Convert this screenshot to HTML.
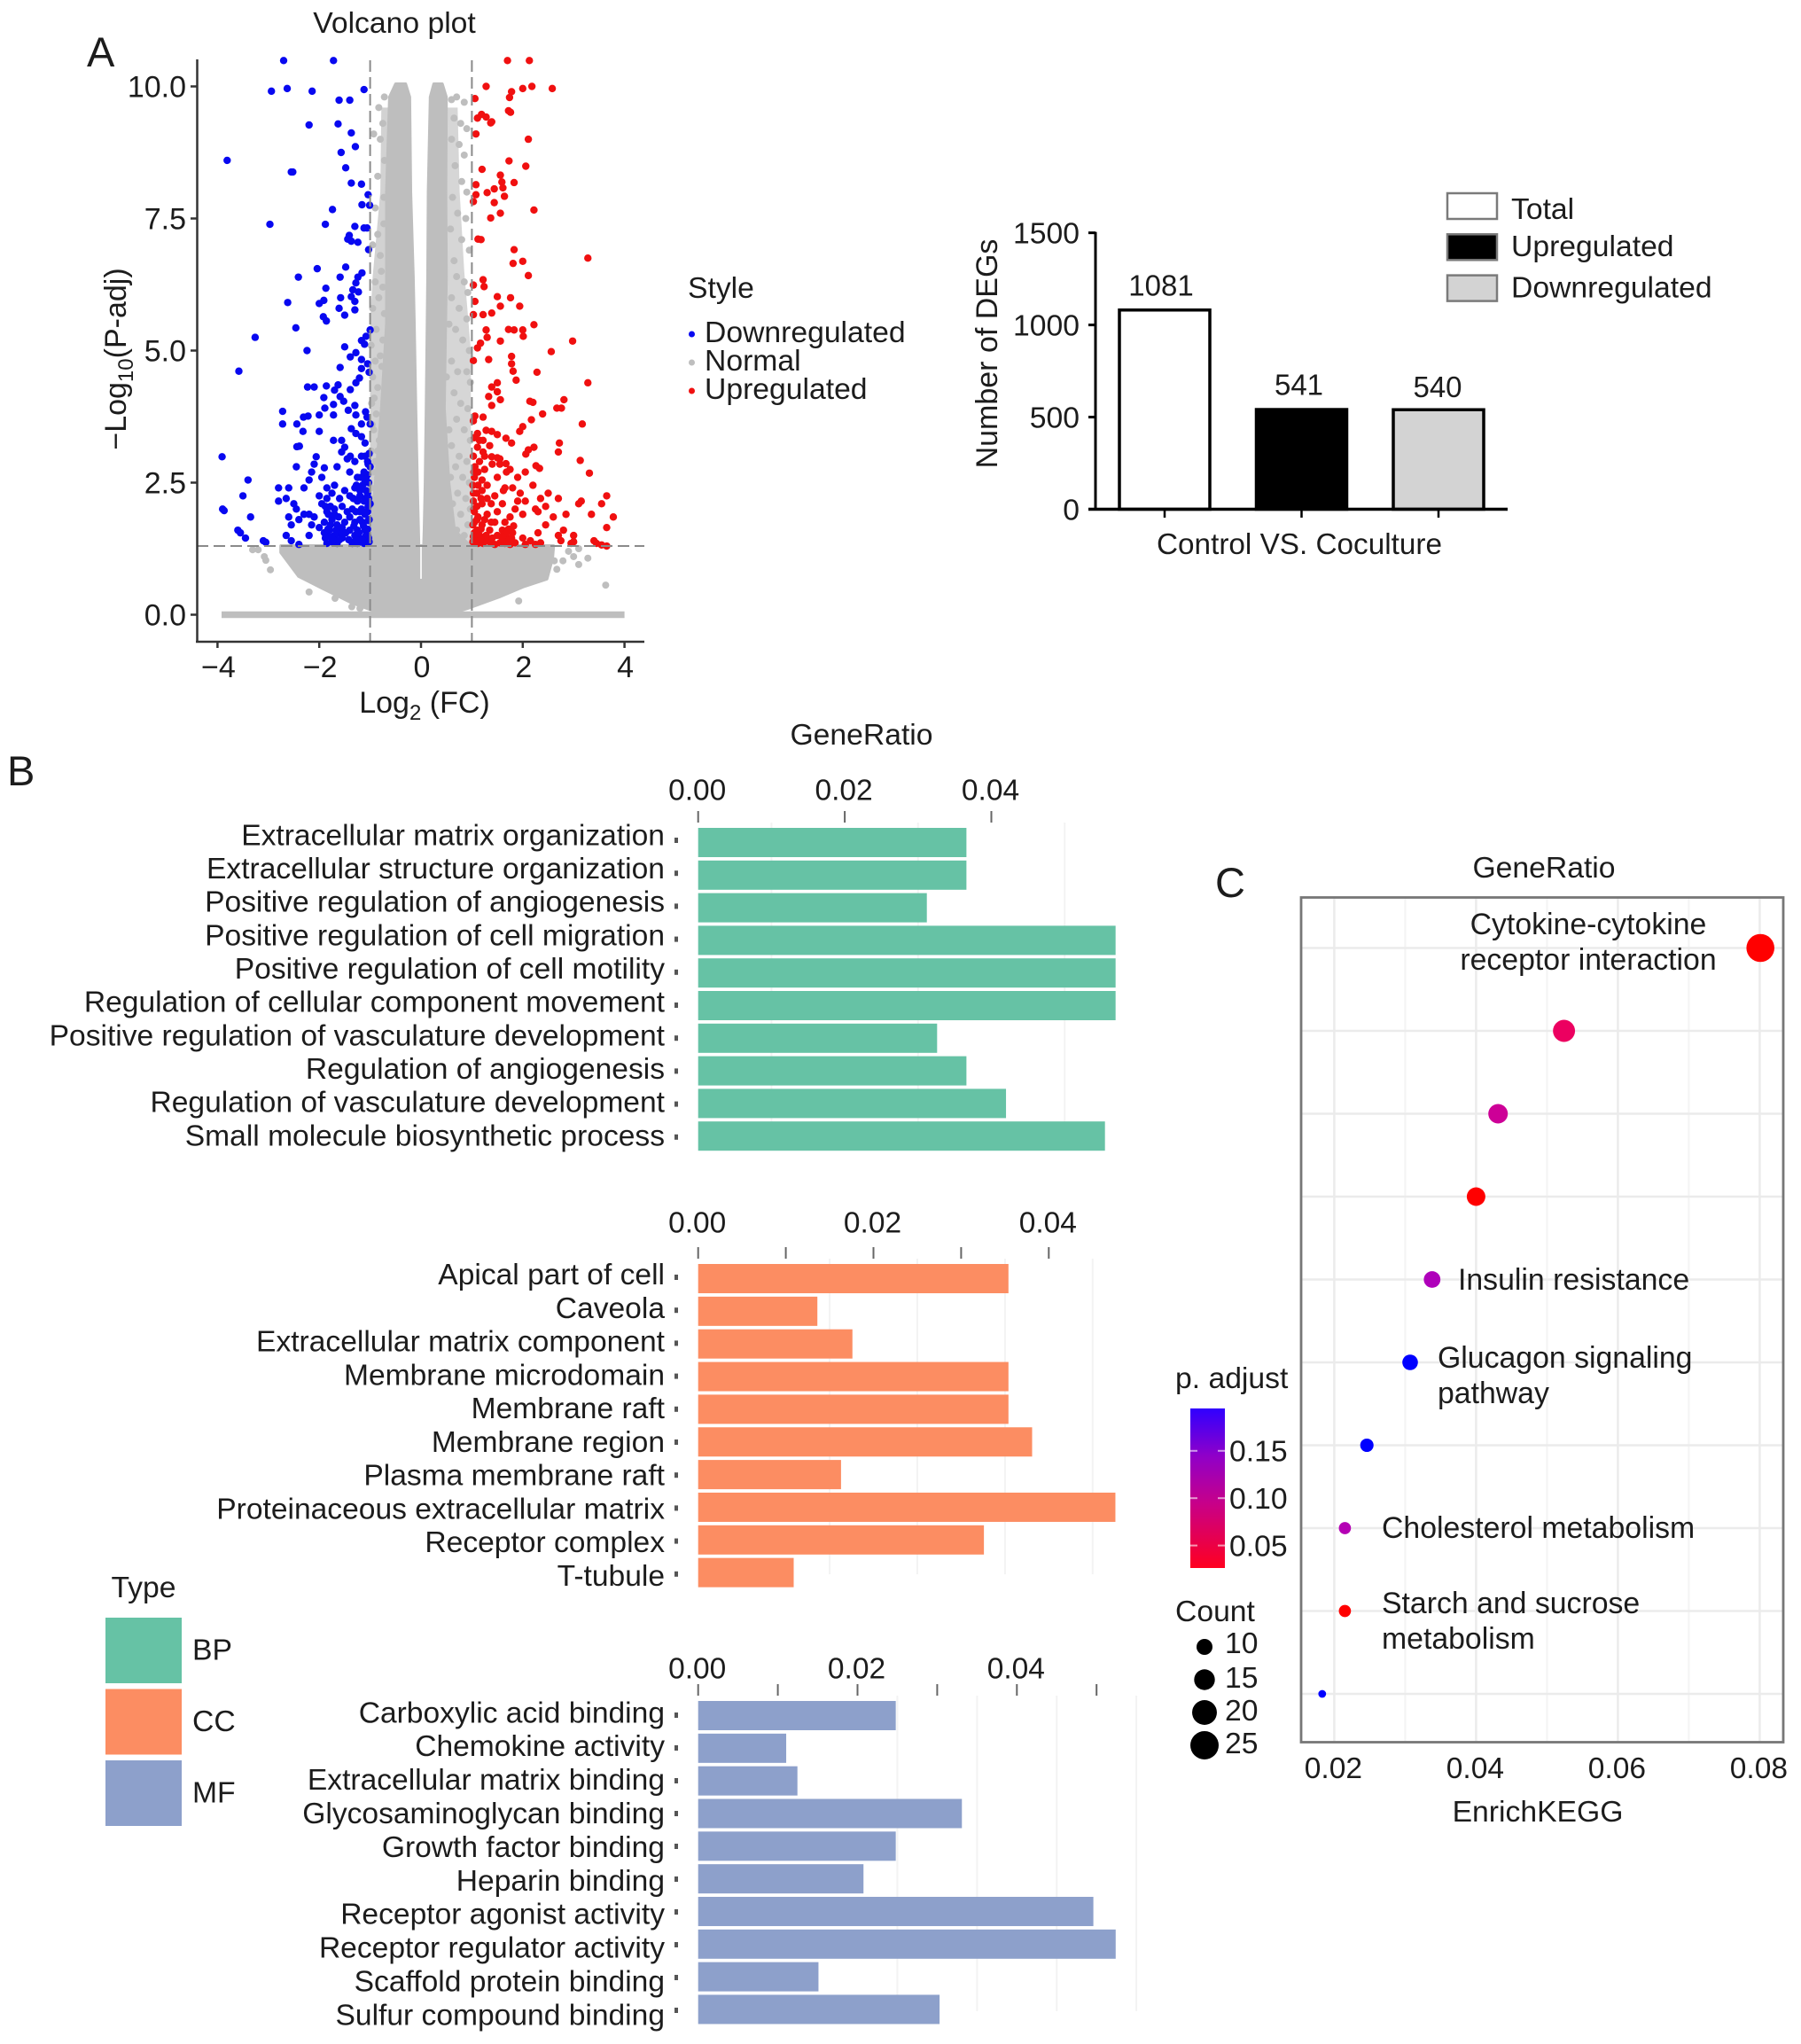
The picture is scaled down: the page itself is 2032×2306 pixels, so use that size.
<!DOCTYPE html>
<html lang="en">
<head>
<meta charset="utf-8">
<title>Differential expression figure</title>
<style>
html,body{margin:0;padding:0;background:#fff;}
svg{display:block;}
text{font-family:"Liberation Sans",Arial,sans-serif;fill:#1c1c1c;font-size:33.7px;}
</style>
</head>
<body>
<svg id="fig" xmlns="http://www.w3.org/2000/svg" width="2032" height="2306" viewBox="0 0 2032 2306">
<rect x="0" y="0" width="2032" height="2306" fill="#fff"/>
<text x="98" y="75" style="font-size:47px">A</text>
<text x="8" y="886" style="font-size:47px">B</text>
<text x="1371" y="1012" style="font-size:47px">C</text>

<text x="445" y="37" text-anchor="middle" style="font-size:33.7px">Volcano plot</text>
<text transform="translate(142,405) rotate(-90)" text-anchor="middle" style="font-size:34px">−Log<tspan dy="8" style="font-size:24px">10</tspan><tspan dy="-8">(P-adj)</tspan></text>
<text x="479" y="804" text-anchor="middle" style="font-size:34px">Log<tspan dy="8" style="font-size:24px">2</tspan><tspan dy="-8"> (FC)</tspan></text>
<text x="776" y="336">Style</text>

<text transform="translate(1125,399) rotate(-90)" text-anchor="middle" style="font-size:34px">Number of DEGs</text>
<text x="1466" y="625" text-anchor="middle" style="font-size:33.3px">Control VS. Coculture</text>

<text x="972" y="840" text-anchor="middle">GeneRatio</text>
<text x="162" y="1802" text-anchor="middle">Type</text>

<text x="1742" y="990" text-anchor="middle">GeneRatio</text>
<text x="1735" y="2055" text-anchor="middle">EnrichKEGG</text>
<text x="1326" y="1566">p. adjust</text>
<text x="1326" y="1829">Count</text>

<defs>
<linearGradient id="padjGrad" x1="0" y1="0" x2="0" y2="1">
<stop offset="0" stop-color="#3000ff"/>
<stop offset="0.3" stop-color="#9000c8"/>
<stop offset="0.6" stop-color="#c80088"/>
<stop offset="1" stop-color="#ff0020"/>
</linearGradient>
</defs>
<rect x="1343" y="1589" width="39" height="180" fill="url(#padjGrad)"/>
</svg>

<script>
/* ---------- Panel A: volcano data ---------- */
var volcanoXTicks = [-4, -2, 0, 2, 4];
var volcanoYTicks = [0, 2.5, 5, 7.5, 10];
var volcanoCutoffsX = [-1, 1];
var volcanoCutoffY = [1.3];
var styleLegend = ['Downregulated', 'Normal', 'Upregulated'];
var downregulated = [[-2.7,10.49],[-1.72,10.49],[-2.94,9.91],[-2.63,9.96],[-2.14,9.91],[-1.12,9.94],[-1.61,9.74],[-1.4,9.74],[-2.2,9.27],[-1.63,9.29],[-1.37,9.12],[-1.29,8.86],[-1.57,8.75],[-3.81,8.6],[-1.48,8.46],[-2.55,8.38],[-2.52,8.38],[-1.37,8.17],[-1.17,8.15],[-1.04,7.95],[-1.16,7.76],[-1.01,7.75],[-1.74,7.67],[-2.97,7.39],[-1.88,7.39],[-1.3,7.35],[-1.12,7.32],[-1.06,7.32],[-1.41,7.18],[-1.44,7.11],[-1.37,7.07],[-1.24,7.05],[-1.03,6.91],[-2.04,6.55],[-1.48,6.58],[-1.16,6.47],[-2.41,6.39],[-1.59,6.39],[-1.24,6.39],[-1.28,6.28],[-1.87,6.18],[-1.34,6.15],[-1.23,6.11],[-1.37,6.02],[-1.58,6],[-1.91,5.95],[-2.62,5.91],[-2,5.89],[-1.3,5.93],[-1.61,5.8],[-1.3,5.77],[-1.5,5.67],[-1.92,5.64],[-1.86,5.56],[-2.46,5.43],[-1,5.39],[-1.08,5.27],[-3.26,5.25],[-1.17,5.19],[-1.11,5.12],[-1.5,5.07],[-2.24,5],[-1.28,4.96],[-1.39,4.88],[-1.17,4.83],[-1.05,4.75],[-1.59,4.68],[-3.58,4.61],[-1.17,4.66],[-1.02,4.59],[-1.21,4.48],[-1.63,4.35],[-1.28,4.39],[-2.23,4.31],[-2.1,4.31],[-1.86,4.33],[-1.7,4.25],[-1.39,4.26],[-1.59,4.13],[-1.91,4.11],[-1.52,4.04],[-1.72,3.98],[-1.89,3.91],[-1.3,3.96],[-2.72,3.85],[-1.43,3.87],[-1.09,3.84],[-1.72,3.78],[-2.22,3.76],[-2.31,3.74],[-2,3.78],[-1.28,3.78],[-1.06,3.74],[-2.72,3.61],[-2.44,3.61],[-1.17,3.61],[-1,3.61],[-1.37,3.52],[-2.32,3.47],[-2,3.47],[-1.28,3.43],[-1.17,3.37],[-1.72,3.3],[-1.56,3.3],[-2.39,3.19],[-2.44,3.18],[-1.5,3.17],[-1.56,3.08],[-1.39,3],[-3.91,2.99],[-2.06,2.99],[-1.17,3],[-1.1,3],[-1.05,2.9],[-1.3,2.9],[-1.45,2.95],[-2.45,2.8],[-2.1,2.85],[-1.9,2.78],[-1.65,2.8],[-1,2.8],[-1.05,2.65],[-2.15,2.7],[-2.2,2.55],[-1.95,2.6],[-1.7,2.45],[-1.4,2.7],[-1.25,2.6],[-1.1,2.5],[-3.4,2.55],[-2.3,2.4],[-1.85,2.4],[-2.8,2.4],[-2.6,2.4],[-1.5,2.35],[-1.3,2.4],[-1.2,2.35],[-1.05,2.3],[-3.5,2.25],[-2.65,2.2],[-2.8,2.15],[-2,2.25],[-1.85,2.2],[-1.95,2.1],[-1.75,2.3],[-1.6,2.2],[-1.4,2.25],[-1.25,2.15],[-1.1,2.2],[-1,2.1],[-3.9,2],[-3.87,1.97],[-2.5,2.1],[-2.45,2],[-2.3,1.9],[-2.2,1.9],[-2.1,1.85],[-1.85,1.95],[-1.7,2],[-1.55,2.05],[-1.35,2],[-1.2,1.95],[-1.05,1.95],[-3.35,1.85],[-2.6,1.85],[-2.55,1.7],[-2.4,1.8],[-1.9,1.75],[-1.75,1.8],[-1.65,1.7],[-1.5,1.75],[-1.3,1.75],[-1.15,1.75],[-1.02,1.8],[-2.15,1.7],[-2,1.65],[-1.9,1.55],[-1.8,1.6],[-1.6,1.55],[-1.4,1.6],[-1.25,1.6],[-1.1,1.6],[-3.6,1.6],[-3.55,1.55],[-2.2,1.5],[-1.7,1.5],[-1.55,1.45],[-1.3,1.5],[-1.2,1.45],[-1.05,1.5],[-3.45,1.45],[-3.1,1.4],[-3.05,1.37],[-2.65,1.5],[-2.55,1.4],[-2.4,1.33],[-1.85,1.35],[-1.75,1.38],[-1.65,1.35],[-1.35,1.35],[-1.25,1.35],[-1.12,1.35],[-1.02,1.38],[-1.03,1.45],[-1.08,1.5],[-1.15,1.42],[-1.22,1.55],[-1.28,1.42],[-1.05,1.62],[-1.13,1.68],[-1.2,1.8],[-1.32,1.68],[-1.04,1.78],[-1.1,1.9],[-1.17,2],[-1.28,1.95],[-1.4,1.85],[-1.04,2.05],[-1.12,2.15],[-1.03,2.2],[-1.2,2.25],[-1.33,2.2],[-1.08,2.35],[-1.15,2.45],[-1.27,2.45],[-1.03,2.5],[-1.08,2.6],[-1.18,2.6],[-1.72,1.42],[-1.8,1.48],[-1.6,1.42],[-1.67,1.6],[-1.78,1.7],[-1.88,1.45],[-1.83,1.62],[-1.62,1.85],[-1.7,1.9],[-1.82,1.9],[-1.78,2.05],[-1.88,2.05],[-1.42,1.42],[-1.48,1.55],[-1.55,1.65],[-1.45,1.95],[-1.04,2.85],[-1.12,2.7],[-1.02,3.05],[-1.1,3.25]];
var upregulated = [[1.7,10.49],[2.13,10.49],[1.28,10],[1.78,9.9],[2,9.96],[2.18,10],[2.58,9.96],[1.06,9.77],[1.74,9.79],[1.19,9.47],[1.11,9.4],[1.72,9.54],[1.76,9.51],[1.28,9.42],[1.37,9.31],[1.39,9.33],[1.08,9.1],[2.11,9],[1.73,8.59],[2.06,8.49],[1.2,8.43],[1.56,8.32],[1.59,8.19],[1.83,8.18],[1.08,8.14],[1.3,7.99],[1.44,8.06],[1.61,8.08],[1.08,7.95],[1.64,7.92],[1.03,7.82],[1.44,7.8],[1.37,7.51],[1.56,7.6],[2.22,7.66],[1.12,7.11],[1.18,7.1],[1.83,6.91],[3.28,6.75],[2,6.69],[1.81,6.65],[2.11,6.42],[1.22,6.34],[1.03,6.24],[1.24,6.21],[1.5,6.02],[1.76,6],[1.06,5.93],[1.56,5.84],[1.94,5.84],[1.03,5.68],[1.22,5.68],[1.39,5.71],[1.72,5.4],[2.22,5.49],[1.28,5.39],[2,5.39],[1.83,5.39],[1.3,5.25],[2.98,5.18],[2.01,5.27],[1.17,5.14],[1.56,5.18],[2.56,4.98],[1.11,5.05],[1.78,4.89],[1.33,4.83],[1.03,4.81],[1.78,4.75],[2.28,4.59],[1.81,4.61],[1.87,4.44],[3.28,4.39],[1.5,4.39],[1.39,4.31],[1.5,4.22],[1.33,4.13],[1.56,4.07],[2.14,4.04],[2.2,4.02],[2.81,4.07],[1.39,3.96],[2.67,3.91],[2.76,3.91],[2.39,3.8],[2.17,3.69],[3.17,3.61],[1.06,3.76],[1.22,3.74],[1.03,3.67],[2,3.56],[1.28,3.49],[1.11,3.43],[1.94,3.47],[1.5,3.41],[1.39,3.47],[1.67,3.34],[1.22,3.3],[1.78,3.25],[2.72,3.25],[2.22,3.17],[2.11,3.12],[1.11,3.17],[2.7,3.08],[2.06,3.04],[1.22,3.08],[1.39,2.99],[1.5,2.97],[1.67,2.86],[3.13,2.92],[2.26,2.82],[2.33,2.77],[1.03,3],[1.15,2.9],[1.06,2.8],[1.25,2.75],[1.4,2.85],[1.55,2.95],[1.75,2.75],[1.9,2.6],[1.05,2.6],[1.2,2.55],[1.5,2.6],[2.05,2.7],[3.31,2.68],[2.2,2.45],[1.02,2.45],[1.3,2.45],[1.65,2.4],[1.8,2.4],[1.95,2.3],[2.5,2.3],[2.7,2.2],[3.65,2.25],[1.1,2.3],[1.45,2.25],[2.35,2.2],[2.05,2.15],[2.45,2.05],[3.15,2.15],[3.1,2.1],[3.55,2.1],[1.03,2.15],[1.2,2.1],[1.6,2.1],[1.85,2],[2.25,2],[2.3,1.95],[2.85,1.9],[3.35,1.9],[3.78,1.85],[1.05,1.95],[1.3,1.9],[1.5,1.95],[1.75,1.85],[2,1.9],[2.6,1.85],[1.1,1.8],[1.45,1.75],[1.65,1.75],[2.45,1.7],[2.7,1.5],[3.65,1.65],[1.02,1.7],[1.2,1.7],[1.35,1.6],[1.6,1.6],[1.8,1.55],[2.3,1.55],[2.8,1.6],[3,1.5],[1.05,1.55],[1.15,1.5],[1.25,1.45],[1.5,1.5],[1.7,1.45],[2,1.45],[2.15,1.4],[2.75,1.4],[3.4,1.4],[3.45,1.35],[3.55,1.32],[3.65,1.3],[1.02,1.38],[1.12,1.35],[1.22,1.35],[1.35,1.38],[1.45,1.33],[1.55,1.36],[1.65,1.35],[1.75,1.33],[1.85,1.36],[2.05,1.33],[2.25,1.33],[2.35,1.36],[2.95,1.35],[3,1.38],[1.03,1.48],[1.08,1.4],[1.1,1.6],[1.17,1.42],[1.18,1.62],[1.28,1.5],[1.3,1.4],[1.4,1.45],[1.05,1.75],[1.12,1.85],[1.25,1.8],[1.38,1.75],[1.6,1.42],[1.68,1.55],[1.72,1.62],[1.6,1.48],[1.78,1.45],[1.82,1.68],[1.04,2],[1.1,2.05],[1.18,2.2],[1.03,2.3],[1.12,2.45],[1.2,2.35],[1.04,2.7],[1.12,2.7],[1.3,2.2],[1.38,2.1],[1.25,3],[1.35,3.2],[1.05,3.35],[1.15,3.3],[1.55,2.85],[1.68,2.7],[1.62,2.35],[1.9,2.15]];
var normalScatter = [[-0.72,9.8],[-0.83,9.6],[-0.75,9.3],[-0.93,9.1],[-0.8,9],[-0.72,8.6],[-0.85,8.3],[-0.73,7.9],[-0.9,7.7],[-0.73,7.4],[-0.85,7.2],[-0.95,7],[-0.8,6.8],[-0.78,6.5],[-0.9,6.3],[-0.75,6.2],[-0.83,6],[-0.95,5.8],[-0.72,5.7],[-0.88,5.4],[-0.98,5.1],[-0.9,4.8],[-0.77,4.7],[-0.95,4.5],[-0.85,4.3],[-0.97,4],[-0.88,3.8],[-0.93,3.5],[-0.82,3.3],[-0.98,3.1],[-0.9,2.9],[-0.95,2.7],[-0.85,2.6],[-0.98,2.4],[-0.92,2.2],[-0.97,2],[-0.88,1.9],[-0.95,1.7],[-0.9,1.5],[-0.75,5.2],[-0.8,4.9],[-0.85,3.1],[-0.92,4.1],[-0.96,3.6],[0.6,9.75],[0.7,9.8],[0.85,9.7],[0.65,9.4],[0.78,9.3],[0.9,9.2],[0.6,9],[0.75,8.9],[0.85,8.7],[0.67,8.5],[0.8,8.2],[0.9,8],[0.62,7.9],[0.72,7.6],[0.88,7.5],[0.58,7.3],[0.8,7.1],[0.95,6.9],[0.65,6.7],[0.7,6.4],[0.85,6.3],[0.92,6.1],[0.6,6],[0.75,5.8],[0.9,5.6],[0.68,5.4],[0.82,5.2],[0.95,5],[0.6,4.8],[0.72,4.6],[0.9,4.6],[0.97,4.4],[0.65,4.2],[0.78,4],[0.92,3.9],[0.7,3.7],[0.85,3.5],[0.97,3.3],[0.6,3.2],[0.75,3],[0.9,2.9],[0.68,2.8],[0.82,2.6],[0.95,2.5],[0.72,2.3],[0.88,2.2],[0.97,2],[0.78,1.9],[0.92,1.7],[0.7,1.6],[0.85,1.5],[0.55,5.5],[0.5,4.5],[0.55,3.5],[0.58,2.6],[0.62,2.1],[-3.31,1.23],[-3.2,1.23],[-3.08,1.1],[-3.05,1.03],[-2.96,0.85],[-2.2,0.43],[-1.69,0.31],[-1.36,0.15],[-1.2,0.12],[1.92,0.26],[3.63,0.56],[3.1,0.95],[3,1.1],[3.28,1.07],[2.79,1.02],[2.62,1.02],[2.67,0.86],[2.9,1.2],[3.1,1.25]];
/* dense grey mass: [-log10 p, inner |log2FC|, outer |log2FC|] at each height */
var normalDensityLeft = [[10.05,0.3,0.5],[9.8,0.22,0.62],[8,0.2,0.68],[6.4,0.15,0.68],[5.5,0.13,0.68],[3.9,0.1,0.78],[2.5,0.07,0.9],[1.3,0.04,1]];
var normalDensityRight = [[10.05,0.25,0.42],[9.8,0.18,0.5],[8,0.14,0.49],[6.4,0.13,0.5],[3.9,0.1,0.46],[2.5,0.08,0.55],[1.6,0.06,0.66],[1.3,0.05,0.98]];
/* lighter fringe where grey points are spread with gaps */
var normalFringeLeft = [[9.6,0.64,0.78],[8,0.68,0.8],[6.4,0.68,0.95],[5.5,0.68,1],[3.9,0.78,1],[1.3,0.9,1]];
var normalFringeRight = [[9.6,0.48,0.72],[8,0.49,0.76],[6.5,0.5,0.85],[5,0.44,0.98],[3,0.5,0.98],[1.3,0.6,0.98]];
/* lower wedge outline of the non-significant genes */
var normalWedge = [[-2.75,1.3],[2.6,1.3],[2.58,1.07],[2.47,0.68],[2,0.53],[1.53,0.34],[0.96,0.14],[0.73,0.07],[0,0.03],[-0.96,0.09],[-1.36,0.23],[-1.95,0.51],[-2.4,0.73],[-2.75,1.18]];
var normalGap = [1.3, 0.68];
var normalBaseline = [-3.92, 4];

/* ---------- Panel A right: DEG counts ---------- */
var degGroups = ['Total', 'Upregulated', 'Downregulated'];
var degCounts = [1081, 541, 540];
var degTicks = [0, 500, 1000, 1500];

/* ---------- Panel B: GO enrichment ---------- */
var bpTerms = ['Extracellular matrix organization','Extracellular structure organization','Positive regulation of angiogenesis','Positive regulation of cell migration','Positive regulation of cell motility','Regulation of cellular component movement','Positive regulation of vasculature development','Regulation of angiogenesis','Regulation of vasculature development','Small molecule biosynthetic process'];
var bpRatios = [0.0366,0.0366,0.0312,0.05695,0.05695,0.05695,0.0326,0.0366,0.042,0.0555];
var bpTicks = [0, 0.02, 0.04];
var bpMinorTicks = [];
var ccTerms = ['Apical part of cell','Caveola','Extracellular matrix component','Membrane microdomain','Membrane raft','Membrane region','Plasma membrane raft','Proteinaceous extracellular matrix','Receptor complex','T-tubule'];
var ccRatios = [0.0354,0.0136,0.0176,0.0354,0.0354,0.0381,0.0163,0.0476,0.0326,0.0109];
var ccTicks = [0, 0.02, 0.04];
var ccMinorTicks = [0.01, 0.03];
var mfTerms = ['Carboxylic acid binding','Chemokine activity','Extracellular matrix binding','Glycosaminoglycan binding','Growth factor binding','Heparin binding','Receptor agonist activity','Receptor regulator activity','Scaffold protein binding','Sulfur compound binding'];
var mfRatios = [0.0248,0.01105,0.01246,0.0331,0.0248,0.02075,0.0496,0.0524,0.0151,0.0303];
var mfTicks = [0, 0.02, 0.04];
var mfMinorTicks = [0.01, 0.03, 0.05];
var typeLegend = ['BP', 'CC', 'MF'];

/* ---------- Panel C: KEGG dot plot ---------- */
var keggRatios = [0.0801,0.0524,0.0431,0.04,0.0338,0.0307,0.0246,0.0215,0.0215,0.0183];
var keggAdjust = [0.026,0.05,0.085,0.026,0.115,0.194,0.194,0.11,0.026,0.194];
var keggCounts = [25,17,14,13,11,10,8,7,7,4];
var keggTicks = [0.02, 0.04, 0.06, 0.08];
var keggMinorTicks = [0.03, 0.05, 0.07];
var adjustTicks = [0.05, 0.10, 0.15];
var countLegend = [10, 15, 20, 25];

var NS = 'http://www.w3.org/2000/svg';
var fig = document.getElementById('fig');
function mk(tag, attrs, parent, txt) {
  var el = document.createElementNS(NS, tag);
  for (var k in attrs) { el.setAttribute(k, attrs[k]); }
  if (txt !== undefined) { el.textContent = txt; }
  (parent || fig).appendChild(el);
  return el;
}
function label(x, yc, str, anchor, size) {
  var fs = size || 33.7;
  var el = mk('text', {x: x, y: yc + fs * 0.35, 'text-anchor': anchor || 'start', style: 'font-size:' + fs + 'px'}, fig, str);
  return el;
}
function hline(x1, y1, x2, y2, color, w, dash) {
  var a = {x1: x1, y1: y1, x2: x2, y2: y2, stroke: color, 'stroke-width': w};
  if (dash) { a['stroke-dasharray'] = dash; }
  return mk('line', a);
}

/* ===== Volcano ===== */
function vx(v) { return 475 + 57.4 * v; }
function vy(v) { return 693.5 - 59.6 * v; }

function bandPoints(rows, sign) {
  var inner = rows.map(function (r) { return vx(sign * r[1]) + ',' + vy(r[0]); });
  var outer = rows.slice().reverse().map(function (r) { return vx(sign * r[2]) + ',' + vy(r[0]); });
  return inner.concat(outer).join(' ');
}
var fringeL = mk('polygon', {points: bandPoints(normalFringeLeft, -1), fill: '#d2d2d2'});


var fringeR = mk('polygon', {points: bandPoints(normalFringeRight, 1), fill: '#d6d6d6'});



var wedgePts = normalWedge.map(function (p) { return vx(p[0]) + ',' + vy(p[1]); }).join(' ');
var wedge = mk('polygon', {points: wedgePts, fill: '#bebebe', stroke: '#bebebe', 'stroke-width': 4, 'stroke-linejoin': 'round'});



var leftBand = mk('polygon', {points: bandPoints(normalDensityLeft, -1), fill: '#bebebe', stroke: '#bebebe', 'stroke-width': 3, 'stroke-linejoin': 'round'});


var rightBand = mk('polygon', {points: bandPoints(normalDensityRight, 1), fill: '#bebebe', stroke: '#bebebe', 'stroke-width': 3, 'stroke-linejoin': 'round'});



var gapLine = hline(vx(0), vy(normalGap[0]), vx(0), vy(normalGap[1]), '#f4f4f4', 2);



var baseLine = hline(vx(normalBaseline[0]), vy(0), vx(normalBaseline[1]), vy(0), '#bebebe', 7.5);



normalScatter.forEach(function (p) {
  var c = mk('circle', {cx: vx(p[0]), cy: vy(p[1]), r: 4, fill: '#bebebe'});
  
  
});
downregulated.forEach(function (p) {
  var c = mk('circle', {cx: vx(p[0]), cy: vy(p[1]), r: 4.2, fill: '#0808f0'});
  
  
});
upregulated.forEach(function (p) {
  var c = mk('circle', {cx: vx(p[0]), cy: vy(p[1]), r: 4.2, fill: '#f01010'});
  
  
});
volcanoCutoffsX.forEach(function (v) {
  var l = hline(vx(v), 68, vx(v), 723, '#8a8a8a', 2, '13 6');
  
  
});
volcanoCutoffY.forEach(function (v) {
  var l = hline(222, vy(v), 727, vy(v), '#8a8a8a', 2, '13 6');
  
  
});
var vAxisY = hline(222.5, 67, 222.5, 724, '#333', 2.5);


var vAxisX = hline(221, 724, 727, 724, '#333', 2.5);


volcanoXTicks.forEach(function (v) {
  var t = hline(vx(v), 724, vx(v), 731, '#333', 2.5);
  
  
  var s = label(vx(v) + 1, 752, (v < 0 ? '−' + (-v) : String(v)), 'middle', 34);
  
  
});
volcanoYTicks.forEach(function (v) {
  var t = hline(215, vy(v), 222, vy(v), '#333', 2.5);
  
  
  var s = label(210, vy(v), v.toFixed(1), 'end', 34);
  
  
});
var styleColors = ['#0808f0', '#bebebe', '#f01010'];
styleLegend.forEach(function (name, i) {
  var yy = 377 + i * 32;
  var c = mk('circle', {cx: 780.5, cy: yy, r: 3.5, fill: styleColors[i]});
  
  
  var s = label(795, yy - 3, name, 'start');
  
  
});

/* ===== DEG bars ===== */
function dy(v) { return 574.5 - v * 0.2079; }
function dx(i) { return 1314 + i * 154.5; }
var degFills = ['#ffffff', '#000000', '#d3d3d3'];
degGroups.forEach(function (name, i) {
  var b = mk('rect', {x: dx(i) - 51, y: dy(degCounts[i]), width: 102, height: dy(0) - dy(degCounts[i]), fill: degFills[i], stroke: '#000', 'stroke-width': 3.5});
  
  
  var s = label(dx(i) - (i === 0 ? 4 : i === 1 ? 3 : 1), dy(degCounts[i]) - (i === 0 ? 28 : i === 1 ? 28 : 26), String(degCounts[i]), 'middle', 33);
  
  
  var t = hline(dx(i), 574.5, dx(i), 584, '#000', 2.5);
  
  
  var yy = 233 + i * 46.3;
  var k = mk('rect', {x: 1633, y: yy - 15, width: 56, height: 29, fill: degFills[i], stroke: '#7a7a7a', 'stroke-width': 2.5});
  
  
  var n = label(1705, yy + (i === 0 ? 2 : -2), name, 'start');
  
  
});
var dAxisY = hline(1236, dy(1500) - 1, 1236, 574.5, '#000', 3);


var dAxisX = hline(1228, 574.5, 1701, 574.5, '#000', 3.5);


degTicks.forEach(function (v) {
  var t = hline(1228, dy(v), 1236, dy(v), '#000', 3);
  
  
  var s = label(1218, dy(v), String(v), 'end', 33.7);
  
  
});

/* ===== GO facets ===== */
function drawFacet(opts, terms, ratios, ticks, minors) {
  var x = function (v) { return 787.7 + v * opts.scale; };
  opts.grid.forEach(function (v) {
    var g = hline(x(v), opts.tickBottom, x(v), opts.barTop + 9.5 * opts.barStep, '#f3f3f3', 2);
    
    
  });
  ticks.concat(minors).forEach(function (v) {
    var t = hline(x(v), opts.tickBottom - 13, x(v), opts.tickBottom, '#666', 2);
    
    
  });
  ticks.forEach(function (v) {
    var s = label(x(v) - 1, opts.tickLabelY, v.toFixed(2), 'middle', 33.5);
    
    
  });
  terms.forEach(function (term, i) {
    var bar = mk('rect', {x: x(0), y: opts.barTop + i * opts.barStep, width: x(ratios[i]) - x(0), height: 33, fill: opts.color});
    
    
    var s = label(750, opts.labelTop + i * opts.labelStep, term, 'end', 33.6);
    
    
    var d = mk('rect', {x: 761, y: opts.dotTop + i * opts.dotStep - 3, width: 4, height: 6, fill: '#555'});
    
    
  });
}
drawFacet({scale: 8270, color: '#66c2a5', tickBottom: 928, tickLabelY: 891, barTop: 934, barStep: 36.8, labelTop: 941.5, labelStep: 37.67, dotTop: 948, dotStep: 37.2, grid: [0.01, 0.03, 0.05]}, bpTerms, bpRatios, bpTicks, bpMinorTicks);
drawFacet({scale: 9890, color: '#fc8d62', tickBottom: 1420, tickLabelY: 1379, barTop: 1426, barStep: 36.85, labelTop: 1437.4, labelStep: 37.75, dotTop: 1441, dotStep: 37.2, grid: [0.015, 0.025, 0.035, 0.045]}, ccTerms, ccRatios, ccTicks, ccMinorTicks);
drawFacet({scale: 8990, color: '#8da0cb', tickBottom: 1913, tickLabelY: 1882, barTop: 1919, barStep: 36.83, labelTop: 1931.5, labelStep: 37.9, dotTop: 1935, dotStep: 37, grid: [0.025, 0.035, 0.045, 0.055]}, mfTerms, mfRatios, mfTicks, mfMinorTicks);

var typeColors = ['#66c2a5', '#fc8d62', '#8da0cb'];
typeLegend.forEach(function (name, i) {
  var yy = 1825 + i * 80.5;
  var sw = mk('rect', {x: 119, y: yy, width: 86, height: 74, fill: typeColors[i]});
  
  
  var s = label(217, yy + 35.5, name, 'start');
  
  
});

/* ===== KEGG dot plot ===== */
function kx(v) { return 1505.4 + (v - 0.02) * 8000; }
function ky(i) { return 1069.5 + i * 93.5; }
function kr(c) { return 8 + 3.8 * (Math.sqrt(c) - Math.sqrt(10)); }
function kcol(p) {
  var t = Math.max(0, Math.min(1, (p - 0.026) / 0.168));
  return 'rgb(' + Math.round(255 * Math.sqrt(1 - t)) + ',0,' + Math.round(255 * Math.sqrt(t)) + ')';
}
keggMinorTicks.forEach(function (v) {
  var g = hline(kx(v), 1014, kx(v), 1964, '#f4f4f4', 2);
  
  
});
keggTicks.forEach(function (v) {
  var g = hline(kx(v), 1014, kx(v), 1964, '#ebebeb', 2.5);
  
  
  var s = label(kx(v) - 1, 1994.5, v.toFixed(2), 'middle', 33.5);
  
  
});
keggRatios.forEach(function (v, i) {
  var g = hline(1469, ky(i), 2011, ky(i), '#ebebeb', 2.5);
  
  
});
var frame = mk('rect', {x: 1468, y: 1012.5, width: 544, height: 953, fill: 'none', stroke: '#777', 'stroke-width': 2.8});


keggRatios.forEach(function (v, i) {
  var c = mk('circle', {cx: kx(v), cy: ky(i), r: kr(keggCounts[i]) + 0.8, fill: kcol(keggAdjust[i])});
  
  
});
function padjY(p) { return 1743.6 - (p - 0.05) * 1068; }
adjustTicks.forEach(function (p) {
  var a = hline(1343, padjY(p), 1351, padjY(p), 'rgba(255,255,255,.6)', 2);
  
  
  var b = hline(1374, padjY(p), 1382, padjY(p), 'rgba(255,255,255,.6)', 2);
  
  
  var s = label(1387, padjY(p), p.toFixed(2), 'start');
  
  
});
countLegend.forEach(function (c, i) {
  var yy = 1858 + i * 37;
  var k = mk('circle', {cx: 1359, cy: yy, r: kr(c) + 1, fill: '#000'});
  
  
  var s = label(1382, yy - (i === 0 ? 5 : 3), String(c), 'start');
  
  
});
</script>
<svg style="position:absolute;left:0;top:0" width="2032" height="2306" viewBox="0 0 2032 2306" xmlns="http://www.w3.org/2000/svg">
<g>
<text x="1792" y="1054" text-anchor="middle" style="font-size:33.8px">Cytokine-cytokine</text>
<text x="1792" y="1094" text-anchor="middle" style="font-size:33.8px">receptor interaction</text>
<text x="1645" y="1455" style="font-size:33.8px">Insulin resistance</text>
<text x="1622" y="1543" style="font-size:33.8px">Glucagon signaling</text>
<text x="1622" y="1583" style="font-size:33.8px">pathway</text>
<text x="1559" y="1735" style="font-size:33.8px">Cholesterol metabolism</text>
<text x="1559" y="1820" style="font-size:33.8px">Starch and sucrose</text>
<text x="1559" y="1860" style="font-size:33.8px">metabolism</text>
</g>
</svg>
</body>
</html>
